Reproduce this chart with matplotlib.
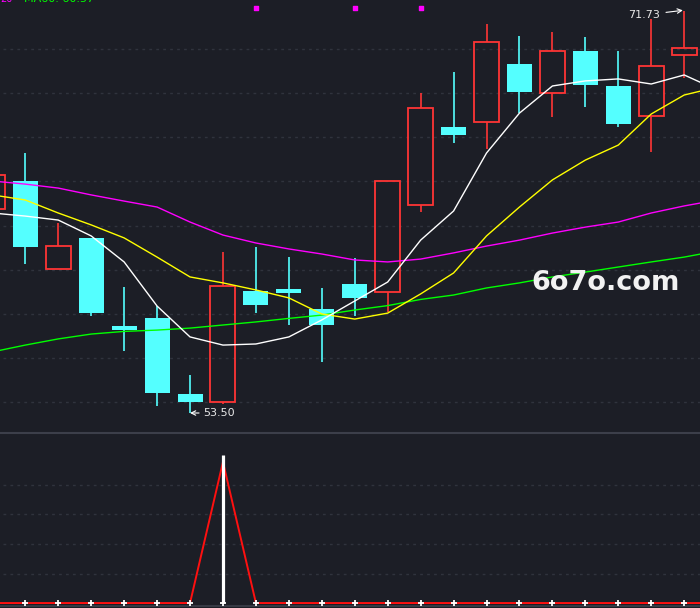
import numpy as np
import matplotlib
matplotlib.use("Agg")
import matplotlib.pyplot as plt
import matplotlib.transforms as mtransforms

# candle data (index 0 is cut off at the left edge)
opens  = [62.75, 64.02, 60.02, 61.44, 57.44, 57.81, 54.36, 53.99, 59.03, 59.12, 58.22,
          59.35, 58.99, 62.92, 66.47, 66.68, 69.33, 67.99, 69.92, 68.33, 66.99, 69.72]
closes = [64.29, 61.04, 61.06, 58.05, 57.28, 54.42, 54.01, 59.25, 58.41, 58.96, 57.50,
          58.73, 64.01, 67.32, 66.12, 70.31, 68.07, 69.90, 68.39, 66.62, 69.22, 70.04]
highs  = [64.55, 65.29, 62.12, 61.44, 59.21, 58.35, 55.22, 60.80, 61.03, 60.57, 59.17,
          60.51, 64.01, 68.01, 68.96, 71.14, 70.60, 70.78, 70.55, 69.92, 71.37, 71.73]
lows   = [62.50, 60.24, 60.02, 57.91, 56.32, 53.83, 53.50, 53.92, 58.05, 57.50, 55.83,
          57.91, 58.09, 62.63, 65.76, 65.49, 67.12, 66.94, 67.39, 66.48, 65.35, 68.68]

# moving averages (one extra point past the right edge)
ma5  = [62.57, 62.43, 62.25, 61.53, 60.35, 58.35, 56.95, 56.58, 56.63, 56.95, 57.72, 58.58,
        59.44, 61.34, 62.66, 65.29, 67.10, 68.33, 68.56, 68.65, 68.42, 68.83, 68.15]
ma10 = [63.39, 63.16, 62.57, 62.03, 61.44, 60.57, 59.67, 59.40, 59.08, 58.72, 57.99, 57.76,
        58.03, 58.90, 59.85, 61.53, 62.84, 64.07, 64.97, 65.65, 67.06, 67.92, 68.28]
ma20 = [64.02, 63.88, 63.70, 63.39, 63.11, 62.84, 62.16, 61.57, 61.21, 60.94, 60.71, 60.44,
        60.35, 60.48, 60.76, 61.07, 61.34, 61.66, 61.93, 62.16, 62.57, 62.89, 63.16]
ma60 = [56.27, 56.58, 56.86, 57.08, 57.20, 57.26, 57.35, 57.49, 57.63, 57.79, 57.94, 58.17,
        58.37, 58.65, 58.85, 59.17, 59.40, 59.67, 59.89, 60.12, 60.35, 60.57, 60.85]

# lower indicator
ind_line = [0, 0, 0, 0, 0, 0, 0, 4.78, 0, 0, 0, 0, 0, 0, 0, 0, 0, 0, 0, 0, 0, 0, 0]
ind_bar_idx = 7
ind_bar_val = 5.02
signal_idx = [8, 11, 13]

bg = '#1c1e26'
up_c = '#ff3535'
dn_c = '#54ffff'
grid_c = '#30333d'

fig = plt.figure(figsize=(7, 6.08), dpi=100, facecolor=bg)
ax = fig.add_axes([0, 175 / 608, 1, 433 / 608])
ax2 = fig.add_axes([0, 2 / 608, 1, 173 / 608])

for a in (ax, ax2):
    a.set_facecolor(bg)
    a.set_xticks([])
    a.set_yticks([])
    for s in a.spines.values():
        s.set_visible(False)
    a.set_xlim(0.232, 21.48)

ax.set_ylim(52.593, 72.229)
for g in range(54, 71, 2):
    ax.axhline(g, xmin=0.004, color=grid_c, lw=1, ls=(0, (2, 3)), zorder=0)

# candles
w = 0.76
for i in range(len(opens)):
    o, c, h, l = opens[i], closes[i], highs[i], lows[i]
    top, bot = max(o, c), min(o, c)
    if c >= o:
        ax.vlines(i, top, h, color=up_c, lw=1.2, zorder=2)
        ax.vlines(i, l, bot, color=up_c, lw=1.2, zorder=2)
        ax.bar(i, top - bot, w, bot, facecolor='none', edgecolor=up_c, lw=1.3, zorder=2)
    else:
        ax.vlines(i, l, h, color=dn_c, lw=1.2, zorder=2)
        ax.bar(i, top - bot, w, bot, color=dn_c, lw=0, zorder=2)

x = np.arange(len(ma5))
ax.plot(x, ma60, color='#00ff00', lw=1, zorder=3)
ax.plot(x, ma20, color='#ff00ff', lw=1, zorder=3)
ax.plot(x, ma10, color='#ffff00', lw=1, zorder=3)
ax.plot(x, ma5, color='white', lw=1, zorder=3)

trans = mtransforms.blended_transform_factory(ax.transData, ax.transAxes)
ax.scatter(signal_idx, [1 - 8 / 433] * len(signal_idx), marker='s', s=6,
           color='#ff00ff', transform=trans, zorder=4)

# min / max labels
lo_i = int(np.argmin(lows))
hi_i = int(np.argmax(highs))
ax.annotate(f'{lows[lo_i]:.2f}', xy=(lo_i, lows[lo_i]), xytext=(lo_i + 0.4, lows[lo_i]),
            color='#e8e8e8', fontsize=8, va='center', ha='left',
            arrowprops=dict(arrowstyle='->', color='white', lw=0.8, shrinkA=1, shrinkB=0))
ax.annotate(f'{highs[hi_i]:.2f}', xy=(hi_i - 0.04, highs[hi_i] + 0.03),
            xytext=(hi_i - 0.72, highs[hi_i] - 0.18),
            color='#e8e8e8', fontsize=8, va='center', ha='right',
            arrowprops=dict(arrowstyle='->', color='white', lw=0.8, shrinkA=2, shrinkB=0))

fig.text(531 / 700, 1 - 283 / 608, '6o7o.com', color='#f2f2f2', fontsize=19.5,
         fontweight='bold', va='center', ha='left')

# legend at the very top, mostly cut off by the frame
fig.text(0.0, 1 - 2 / 608, '20', color='#ff00ff', fontsize=7, va='baseline')
fig.text(24 / 700, 1 - 2 / 608, 'MA60: 60.57', color='#00ff00', fontsize=8, va='baseline')

# lower panel
ax2.set_ylim(-0.10, 5.76)
for g in range(1, 5):
    ax2.axhline(g, xmin=0.004, color=grid_c, lw=1, ls=(0, (2, 3)), zorder=0)
ax2.plot(x, ind_line, color='#ff1010', lw=1.4, zorder=2)
ax2.vlines(ind_bar_idx, 0, ind_bar_val, color='white', lw=2.3, zorder=3)
ax2.plot(x, [0] * len(x), ls='none', marker='+', ms=4, mew=1.3, color='white', zorder=4)
ax2.spines['top'].set_visible(True)
ax2.spines['top'].set_color('#3c3f4a')
ax2.spines['top'].set_linewidth(1.5)
ax2.spines['bottom'].set_visible(True)
ax2.spines['bottom'].set_color('#3c3f4a')
ax2.spines['bottom'].set_linewidth(1.2)

fig.savefig('out.png', dpi=100, facecolor=bg)
